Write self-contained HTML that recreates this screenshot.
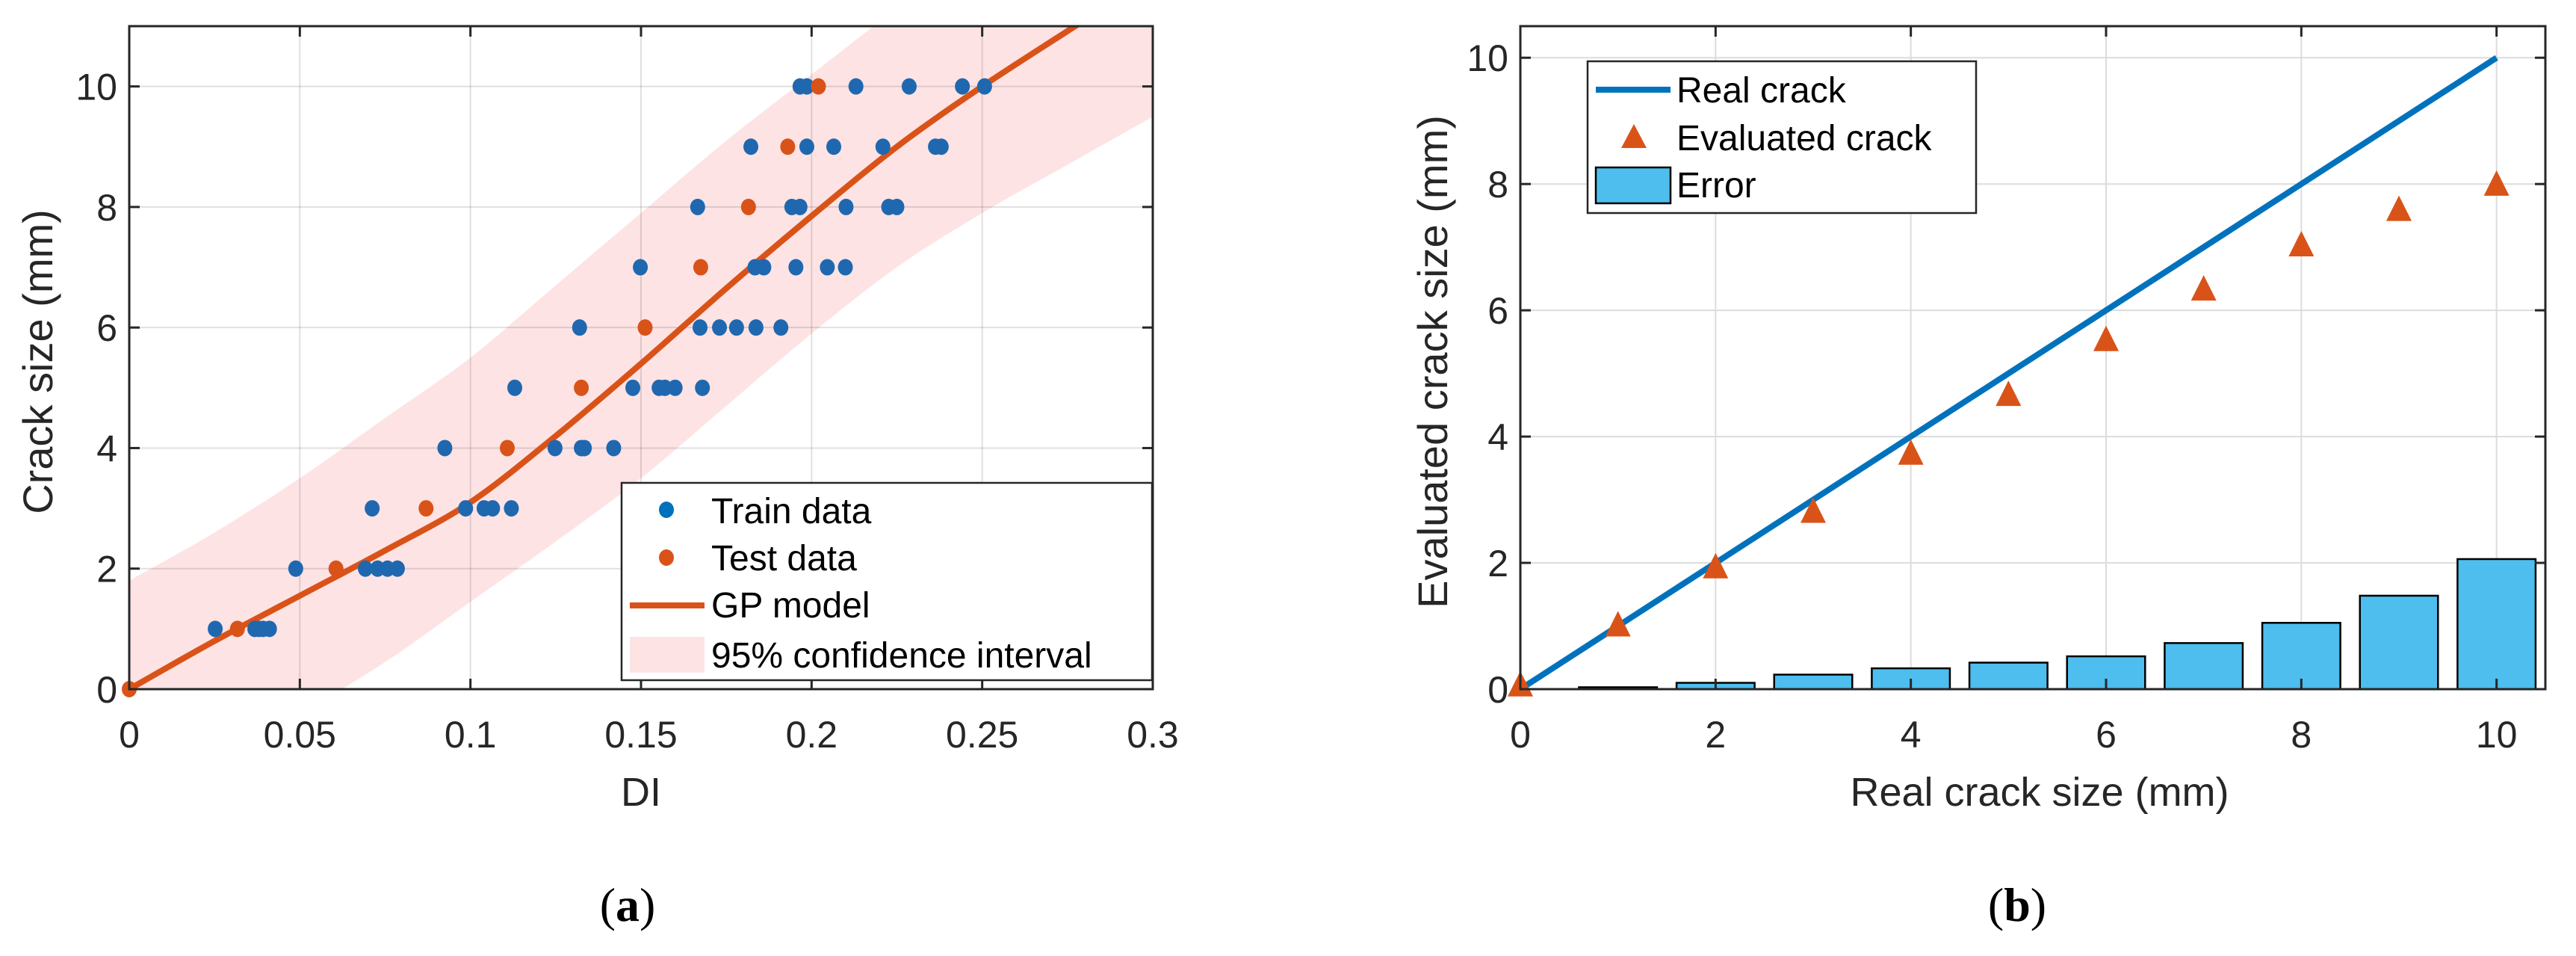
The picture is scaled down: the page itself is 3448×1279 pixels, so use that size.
<!DOCTYPE html>
<html><head><meta charset="utf-8"><style>
html,body{margin:0;padding:0;background:#fff;}
svg{display:block;font-family:"Liberation Sans",Arial,sans-serif;}
</style></head><body>
<svg id="fig" width="3448" height="1279" viewBox="0 0 3448 1279" xmlns="http://www.w3.org/2000/svg">
<rect width="3448" height="1279" fill="#fff"/>
<g id="pa"></g>
<g id="pb"></g>
<text x="840" y="1232" font-family="Liberation Serif,serif" font-size="64" text-anchor="middle" fill="#000">(<tspan font-weight="bold">a</tspan>)</text>
<text x="2700" y="1232" font-family="Liberation Serif,serif" font-size="64" text-anchor="middle" fill="#000">(<tspan font-weight="bold">b</tspan>)</text>
</svg>
<script>
// ---- Panel (a) data ----
const trainDI=[0.0252,0.0368,0.0380,0.0392,0.0411,0.0488,0.0692,0.0728,0.0757,0.0786,0.0712,0.0986,0.104,0.1065,0.112,0.0925,0.1248,0.1325,0.1334,0.142,0.113,0.1476,0.1553,0.157,0.160,0.168,0.132,0.1673,0.173,0.178,0.1837,0.191,0.1498,0.1834,0.186,0.1954,0.2046,0.2099,0.1666,0.1942,0.1966,0.2101,0.2226,0.225,0.1822,0.1986,0.2065,0.2209,0.2363,0.238,0.1966,0.1986,0.213,0.2286,0.2442,0.2507];
const trainY=[1,1,1,1,1,2,2,2,2,2,3,3,3,3,3,4,4,4,4,4,5,5,5,5,5,5,6,6,6,6,6,6,7,7,7,7,7,7,8,8,8,8,8,8,9,9,9,9,9,9,10,10,10,10,10,10];
const testDI=[0,0.0317,0.0606,0.087,0.1108,0.1325,0.1512,0.1675,0.1815,0.193,0.202];
const testY=[0,1,2,3,4,5,6,7,8,9,10];
const gpDI=[0,0.025,0.05,0.075,0.1,0.125,0.15,0.175,0.2,0.225,0.25,0.28];
const gpY=[0,0.8,1.55,2.3,3.1,4.2,5.4,6.65,7.85,9.0,10.0,11.1];
const ciDI=[0,0.025,0.05,0.075,0.1,0.125,0.15,0.175,0.2,0.225,0.25,0.275,0.3];
const ciUpper=[1.8,2.6,3.5,4.5,5.5,6.7,7.9,9.1,10.2,11.3,12.4,13.4,14.4];
const ciLower=[-1.8,-1.1,-0.4,0.45,1.45,2.45,3.5,4.7,5.9,7.0,7.9,8.7,9.5];
const aXTicks=[0,0.05,0.1,0.15,0.2,0.25,0.3];
const aXTickLabels=["0","0.05","0.1","0.15","0.2","0.25","0.3"];
const aYTicks=[0,2,4,6,8,10];
// ---- Panel (b) data ----
const realX=[0,1,2,3,4,5,6,7,8,9,10];
const evalY=[0.05,1.0,1.92,2.8,3.72,4.65,5.52,6.32,7.02,7.58,7.98];
const errX=[1,2,3,4,5,6,7,8,9,10];
const errVal=[0.03,0.1,0.23,0.33,0.42,0.52,0.73,1.05,1.48,2.06];
const bXTicks=[0,2,4,6,8,10];
const bYTicks=[0,2,4,6,8,10];

const NS="http://www.w3.org/2000/svg";
function mk(parent,tag,attrs,text){const e=document.createElementNS(NS,tag);for(const k in attrs)e.setAttribute(k,attrs[k]);if(text!==undefined)e.textContent=text;parent.appendChild(e);return e;}
function smooth(pts,start){ // catmull-rom to cubic bezier
  let d=start?('M'+pts[0][0]+','+pts[0][1]):('L'+pts[0][0]+','+pts[0][1]);
  for(let i=0;i<pts.length-1;i++){
    const p0=pts[Math.max(0,i-1)],p1=pts[i],p2=pts[i+1],p3=pts[Math.min(pts.length-1,i+2)];
    const c1=[p1[0]+(p2[0]-p0[0])/6,p1[1]+(p2[1]-p0[1])/6];
    const c2=[p2[0]-(p3[0]-p1[0])/6,p2[1]-(p3[1]-p1[1])/6];
    d+=` C${c1[0]},${c1[1]} ${c2[0]},${c2[1]} ${p2[0]},${p2[1]}`;
  }
  return d;
}

// ===== Panel A =====
(function(){
const g=document.getElementById('pa');
const L=173,R=1543,T=35,B=922;
const xs=v=>L+(v-0)/(0.3)*(R-L);
const ys=v=>B-(v-0)/11*(B-T);
mk(g,'clipPath',{id:'clipA'});
mk(document.getElementById('clipA'),'rect',{x:L,y:T,width:R-L,height:B-T});
// CI band
const up=ciDI.map((v,i)=>[xs(v),ys(ciUpper[i])]);
const lo=ciDI.map((v,i)=>[xs(v),ys(ciLower[i])]).reverse();
const d=smooth(up,true)+' '+smooth(lo,false)+' Z';
const band=mk(g,'path',{d:d,fill:'#fde3e4','clip-path':'url(#clipA)'});


// grid
aXTicks.forEach(t=>{const l=mk(g,'line',{x1:xs(t),x2:xs(t),y1:T,y2:B,stroke:'#000','stroke-opacity':0.12,'stroke-width':2});});
aYTicks.forEach(t=>{const l=mk(g,'line',{x1:L,x2:R,y1:ys(t),y2:ys(t),stroke:'#000','stroke-opacity':0.12,'stroke-width':2});});
// GP line
const gp=mk(g,'path',{d:smooth(gpDI.map((v,i)=>[xs(v),ys(gpY[i])]),true),fill:'none',stroke:'#D95319','stroke-width':8,'clip-path':'url(#clipA)'});


trainDI.forEach((v,i)=>{const c=mk(g,'ellipse',{cx:xs(v),cy:ys(trainY[i]),rx:10,ry:11,fill:'#1f68b0'});

});
testDI.forEach((v,i)=>{const c=mk(g,'ellipse',{cx:xs(v),cy:ys(testY[i]),rx:10,ry:11,fill:'#D95319'});

});
const ax=mk(g,'rect',{x:L,y:T,width:R-L,height:B-T,fill:'none',stroke:'#262626','stroke-width':3});


aXTicks.forEach((t,i)=>{mk(g,'line',{x1:xs(t),x2:xs(t),y1:B,y2:B-14,stroke:'#262626','stroke-width':3});mk(g,'line',{x1:xs(t),x2:xs(t),y1:T,y2:T+14,stroke:'#262626','stroke-width':3});
const tx=mk(g,'text',{x:xs(t),y:1000,'font-size':50,'text-anchor':'middle',fill:'#262626'},aXTickLabels[i]);

});
aYTicks.forEach(t=>{mk(g,'line',{x1:L,x2:L+14,y1:ys(t),y2:ys(t),stroke:'#262626','stroke-width':3});mk(g,'line',{x1:R,x2:R-14,y1:ys(t),y2:ys(t),stroke:'#262626','stroke-width':3});
const tx=mk(g,'text',{x:L-16,y:ys(t)+18,'font-size':50,'text-anchor':'end',fill:'#262626'},String(t));

});
const xt=mk(g,'text',{x:858,y:1078,'font-size':54,'text-anchor':'middle',fill:'#262626'},'DI');


const yt=mk(g,'text',{x:0,y:0,'font-size':56,'text-anchor':'middle',fill:'#262626',transform:'translate(70,484) rotate(-90)'},'Crack size (mm)');


const lg=mk(g,'g',{});


mk(lg,'rect',{x:832,y:646,width:710,height:264,fill:'#fff',stroke:'#262626','stroke-width':2.5});
const ents=[['Train data',700],['Test data',763],['GP model',826],['95% confidence interval',893]];
mk(lg,'ellipse',{cx:892,cy:682,rx:10,ry:11,fill:'#0072BD'});
mk(lg,'ellipse',{cx:892,cy:746,rx:10,ry:11,fill:'#D95319'});
mk(lg,'line',{x1:843,x2:943,y1:810,y2:810,stroke:'#D95319','stroke-width':8});
mk(lg,'rect',{x:843,y:852,width:100,height:48,fill:'#fde3e4'});
ents.forEach(e=>{const t=mk(lg,'text',{x:952,y:e[1],'font-size':48,fill:'#000'},e[0]);

});
})();

// ===== Panel B =====
(function(){
const g=document.getElementById('pb');
const L=2035,R=3407,T=35,B=922;
const xs=v=>L+v/10.5*(R-L);
const ys=v=>B-v/10.5*(B-T);
bXTicks.forEach(t=>{const l=mk(g,'line',{x1:xs(t),x2:xs(t),y1:T,y2:B,stroke:'#dcdcdc','stroke-width':2});});
bYTicks.forEach(t=>{const l=mk(g,'line',{x1:L,x2:R,y1:ys(t),y2:ys(t),stroke:'#dcdcdc','stroke-width':2});});
errX.forEach((v,i)=>{const w=xs(0.8)-xs(0);const r=mk(g,'rect',{x:xs(v-0.4),y:ys(errVal[i]),width:w,height:B-ys(errVal[i]),fill:'#4DBEEE',stroke:'#000','stroke-width':2.5});

});
const ln=mk(g,'line',{x1:xs(realX[0]),y1:ys(realX[0]),x2:xs(realX[realX.length-1]),y2:ys(realX[realX.length-1]),stroke:'#0072BD','stroke-width':8});


realX.forEach((v,i)=>{const cx=xs(v),cy=ys(evalY[i]);const p=mk(g,'polygon',{points:`${cx},${cy-20} ${cx-17},${cy+14} ${cx+17},${cy+14}`,fill:'#D95319'});

});
const ax=mk(g,'rect',{x:L,y:T,width:R-L,height:B-T,fill:'none',stroke:'#262626','stroke-width':3});


bXTicks.forEach(t=>{mk(g,'line',{x1:xs(t),x2:xs(t),y1:B,y2:B-14,stroke:'#262626','stroke-width':3});mk(g,'line',{x1:xs(t),x2:xs(t),y1:T,y2:T+14,stroke:'#262626','stroke-width':3});
const tx=mk(g,'text',{x:xs(t),y:1000,'font-size':50,'text-anchor':'middle',fill:'#262626'},String(t));

});
bYTicks.forEach(t=>{mk(g,'line',{x1:L,x2:L+14,y1:ys(t),y2:ys(t),stroke:'#262626','stroke-width':3});mk(g,'line',{x1:R,x2:R-14,y1:ys(t),y2:ys(t),stroke:'#262626','stroke-width':3});
const tx=mk(g,'text',{x:L-16,y:ys(t)+18,'font-size':50,'text-anchor':'end',fill:'#262626'},String(t));

});
const xt=mk(g,'text',{x:2730,y:1078,'font-size':54,'text-anchor':'middle',fill:'#262626'},'Real crack size (mm)');


const yt=mk(g,'text',{x:0,y:0,'font-size':56,'text-anchor':'middle',fill:'#262626',transform:'translate(1937,484) rotate(-90)'},'Evaluated crack size (mm)');


const lg=mk(g,'g',{});


mk(lg,'rect',{x:2125,y:82,width:520,height:203,fill:'#fff',stroke:'#262626','stroke-width':2.5});
mk(lg,'line',{x1:2136,x2:2236,y1:120,y2:120,stroke:'#0072BD','stroke-width':8});
mk(lg,'polygon',{points:'2187,166 2170,198 2204,198',fill:'#D95319'});
mk(lg,'rect',{x:2136,y:224,width:100,height:48,fill:'#4DBEEE',stroke:'#000','stroke-width':2.5});
[['Real crack',137],['Evaluated crack',201],['Error',264]].forEach(e=>{const t=mk(lg,'text',{x:2244,y:e[1],'font-size':48,fill:'#000'},e[0]);

});
})();
</script>
</body></html>
